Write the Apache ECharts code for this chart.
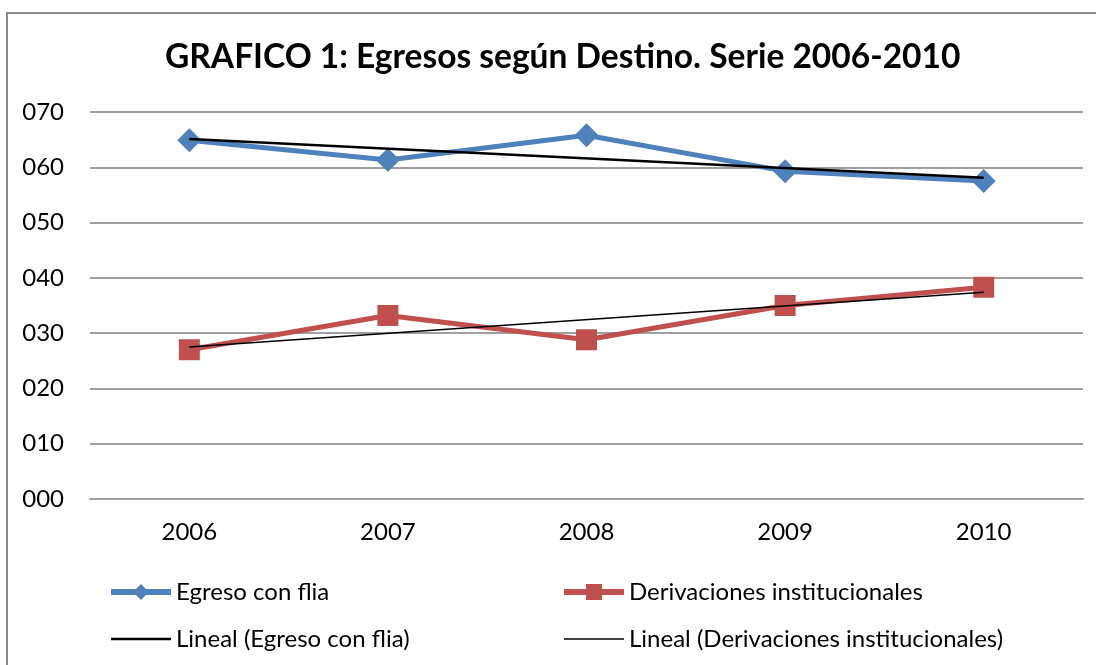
<!DOCTYPE html>
<html>
<head>
<meta charset="utf-8">
<script src="https://cdn.jsdelivr.net/npm/echarts@6/dist/echarts.min.js"></script>
<style>
html,body{margin:0;padding:0;background:#fff;}
#chart{width:1096px;height:665px;}
</style>
</head>
<body>
<div id="chart"></div>
<script>
const categories = ['2006', '2007', '2008', '2009', '2010'];
const egresoConFlia = [64.9, 61.3, 65.8, 59.3, 57.5];
const derivaciones = [27.0, 33.2, 28.8, 35.0, 38.3];
const linealEgreso = [65.1, null, null, null, 58.1];
const linealDerivaciones = [27.5, null, null, null, 37.4];
const yTicks = { min: 0, max: 70, interval: 10 };

const FONT = 'Lato';
const chart = echarts.init(document.getElementById('chart'), null, { renderer: 'canvas' });

function legendAt(item, left, top, extra) {
  return Object.assign({
    data: [item], left: left, top: top, itemWidth: 60, itemHeight: 20, itemGap: 0,
    textStyle: { fontFamily: FONT, fontSize: 24, color: '#000' }, selectedMode: false
  }, extra || {});
}

chart.setOption({
  animation: false,
  backgroundColor: '#fff',
  title: {
    text: 'GRAFICO 1: Egresos según Destino. Serie 2006-2010',
    left: 160, top: 35,
    textStyle: { fontFamily: FONT, fontWeight: 'bold', fontSize: 33.5, color: '#000' }
  },
  graphic: [{
    type: 'rect', shape: { x: 7, y: 13, width: 1100, height: 700 },
    style: { fill: 'none', stroke: '#8c8c8c', lineWidth: 2 }, silent: true, z: -1
  }],
  legend: [
    legendAt('Egreso con flia', 103, 575, { lineStyle: { width: 6 } }),
    legendAt('Derivaciones institucionales', 556, 575, { lineStyle: { width: 6 } }),
    legendAt({ name: 'Lineal (Egreso con flia)', icon: 'rect' }, 106, 622, { itemHeight: 2.5 }),
    legendAt({ name: 'Lineal (Derivaciones institucionales)', icon: 'rect' }, 559, 622, { itemHeight: 1.5 })
  ],
  grid: { left: 90, right: 13, top: 112, bottom: 166 },
  xAxis: {
    type: 'category', data: categories, boundaryGap: true,
    axisLine: { lineStyle: { color: '#a0a0a0', width: 2 } },
    axisTick: { show: false },
    axisLabel: { fontFamily: FONT, fontSize: 24, color: '#000', margin: 21 }
  },
  yAxis: {
    type: 'value', min: yTicks.min, max: yTicks.max, interval: yTicks.interval,
    axisLine: { show: false }, axisTick: { show: false },
    splitLine: { lineStyle: { color: '#a0a0a0', width: 2 } },
    axisLabel: {
      fontFamily: FONT, fontSize: 24, color: '#000', margin: 26,
      formatter: v => String(v).padStart(3, '0')
    }
  },
  series: [
    {
      name: 'Egreso con flia', type: 'line', data: egresoConFlia,
      symbol: 'diamond', symbolSize: 24,
      lineStyle: { color: '#4F81BD', width: 5 },
      itemStyle: { color: '#4F81BD' }, z: 2
    },
    {
      name: 'Derivaciones institucionales', type: 'line', data: derivaciones,
      symbol: 'rect', symbolSize: 21,
      lineStyle: { color: '#C0504D', width: 5 },
      itemStyle: { color: '#C0504D' }, z: 2
    },
    {
      name: 'Lineal (Egreso con flia)', type: 'line', data: linealEgreso,
      connectNulls: true, symbol: 'none',
      lineStyle: { color: '#000', width: 2.5 }, itemStyle: { color: '#000' }, z: 5
    },
    {
      name: 'Lineal (Derivaciones institucionales)', type: 'line', data: linealDerivaciones,
      connectNulls: true, symbol: 'none',
      lineStyle: { color: '#000', width: 1.5 }, itemStyle: { color: '#000' }, z: 5
    }
  ]
});
</script>
</body>
</html>
